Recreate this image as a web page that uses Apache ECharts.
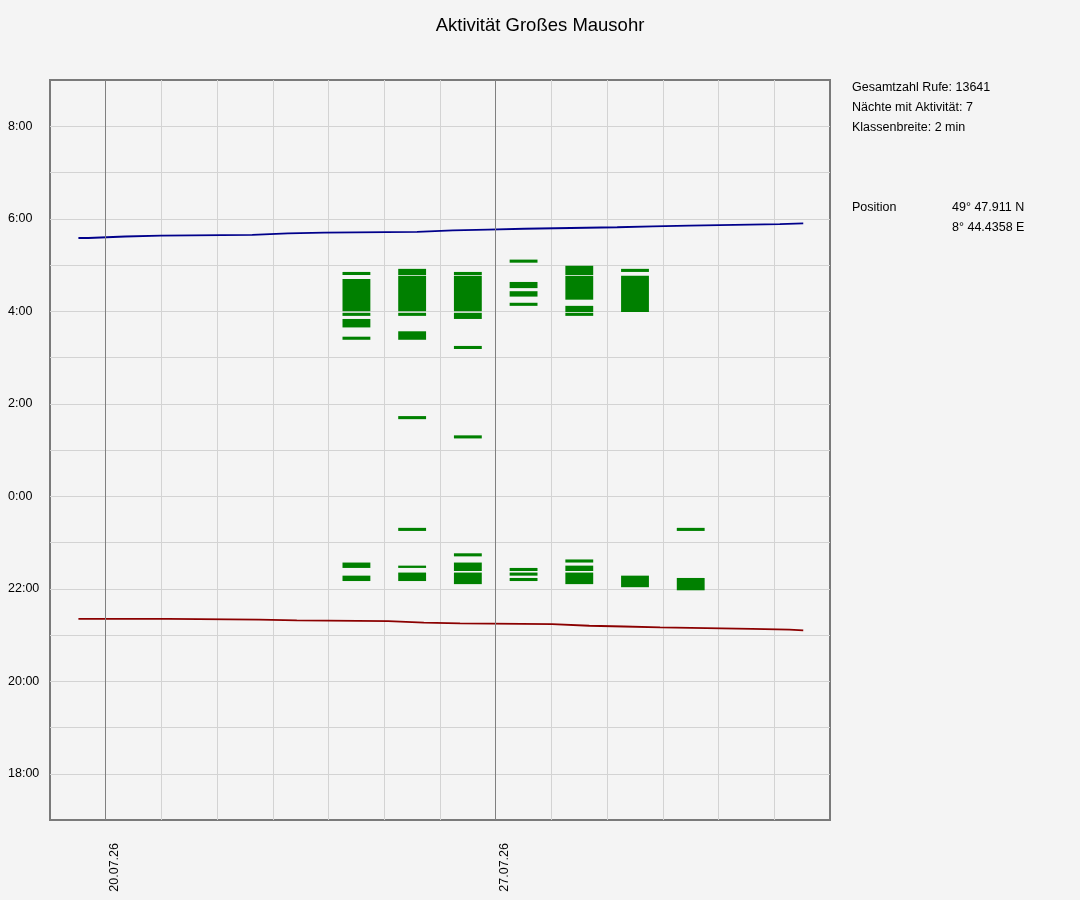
<!DOCTYPE html>
<html>
<head>
<meta charset="utf-8">
<script src="https://cdn.jsdelivr.net/npm/echarts@6/dist/echarts.min.js"></script>
<style>
html,body{margin:0;padding:0;background:#f4f4f4;}
#chart{width:1080px;height:900px;}
</style>
</head>
<body>
<div id="chart"></div>
<script>
// ---------- data ----------
const chartTitle = 'Aktivität Großes Mausohr';
// x axis: days after 19.07.26 (0 = 19.07.26)
const dateTickDays = [1, 8];
const dateTickLabels = ['20.07.26', '27.07.26'];
// y axis: hours relative to midnight
const hourTicks = [-6, -4, -2, 0, 2, 4, 6, 8];
const hourTickLabels = ['18:00', '20:00', '22:00', '0:00', '2:00', '4:00', '6:00', '8:00'];

// centre of each night with activity (days after 19.07.26)
const nightCentres = [5.5, 6.5, 7.5, 8.5, 9.5, 10.5, 11.5];
// activity intervals (start, end) per night
const night2407 = [['4:47','4:51'],['4:00','4:42'],['3:54','3:58'],['3:39','3:50'],['3:23','3:27'],['22:27','22:34'],['22:10','22:17']];
const night2507 = [['4:47','4:55'],['4:00','4:46'],['3:54','3:58'],['3:23','3:34'],['1:40','1:44'],['23:15','23:19'],['22:27','22:30'],['22:10','22:21']];
const night2607 = [['4:47','4:51'],['4:00','4:46'],['3:50','3:58'],['3:11','3:15'],['1:15','1:19'],['22:42','22:46'],['22:23','22:34'],['22:06','22:21']];
const night2707 = [['5:03','5:07'],['4:30','4:38'],['4:19','4:26'],['4:07','4:11'],['22:23','22:27'],['22:17','22:21'],['22:10','22:14']];
const night2807 = [['4:47','4:59'],['4:15','4:46'],['3:59','4:07'],['3:54','3:58'],['22:34','22:38'],['22:23','22:30'],['22:06','22:21']];
const night2907 = [['4:51','4:55'],['3:59','4:46'],['22:02','22:17']];
const night3007 = [['23:15','23:19'],['21:58','22:14']];
const nightIntervals = [night2407, night2507, night2607, night2707, night2807, night2907, night3007];

// sunrise (step line): day of step start, time
const sunriseDays  = [0.51, 0.69, 1.35, 1.99, 3.63, 4.27, 4.92, 6.59, 7.23, 7.86, 8.51, 10.18, 10.82, 11.47, 13.10, 13.52];
const sunriseTimes = ['5:35','5:37','5:38','5:39','5:41','5:42','5:43','5:45','5:46','5:47','5:49','5:50','5:51','5:53','5:54','5:54'];
// sunset (step line)
const sunsetDays  = [0.51, 2.12, 3.75, 4.43, 6.07, 6.71, 7.36, 9.01, 9.68, 10.30, 10.95, 12.60, 13.27, 13.52];
const sunsetTimes = ['21:21','21:20','21:19','21:18','21:16','21:15','21:14','21:12','21:11','21:10','21:08','21:07','21:06','21:06'];

const infoLines = ['Gesamtzahl Rufe: 13641', 'Nächte mit Aktivität: 7', 'Klassenbreite: 2 min'];
const positionLabel = 'Position';
const positionValues = ['49° 47.911 N', '8° 44.4358 E'];

// ---------- helpers ----------
const FONT = 'Liberation Sans';
const FS = 12.5;
const BAR_WIDTH_DAYS = 0.5;
function toHours(t) {
  const [h, m] = t.split(':').map(Number);
  const v = h + m / 60;
  return v >= 12 ? v - 24 : v;
}

const barData = [];
nightIntervals.forEach((list, i) => {
  list.forEach(([s, e]) => barData.push([nightCentres[i], toHours(s), toHours(e)]));
});
const sunriseData = sunriseDays.map((d, i) => [d, toHours(sunriseTimes[i])]);
const sunsetData = sunsetDays.map((d, i) => [d, toHours(sunsetTimes[i])]);

const chart = echarts.init(document.getElementById('chart'));

const textStyle = t => ({ text: t, fontSize: FS, fontFamily: FONT, fill: '#000', align: 'left', verticalAlign: 'middle' });
const graphics = [];
infoLines.forEach((t, i) => graphics.push({ type: 'text', x: 852, y: 88 + i * 20, style: textStyle(t) }));
graphics.push({ type: 'text', x: 852, y: 208, style: textStyle(positionLabel) });
positionValues.forEach((t, i) => graphics.push({ type: 'text', x: 952, y: 208 + i * 20, style: textStyle(t) }));

chart.setOption({
  animation: false,
  backgroundColor: '#f4f4f4',
  title: {
    text: chartTitle, left: 'center', top: 11,
    textStyle: { fontFamily: FONT, fontSize: 18.5, fontWeight: 'normal', color: '#000' }
  },
  grid: {
    left: 50, top: 80, width: 780, height: 740,
    show: true, borderColor: '#7a7a7a', borderWidth: 2, backgroundColor: 'transparent'
  },
  xAxis: {
    type: 'value', min: 0, max: 14, interval: 1,
    axisLine: { show: false }, axisTick: { show: false },
    splitLine: { show: true, showMinLine: false, showMaxLine: false, lineStyle: { color: '#d3d3d3', width: 1 } },
    axisLabel: {
      rotate: 90, margin: 23, fontFamily: FONT, fontSize: FS, color: '#000',
      verticalAlign: 'top', lineHeight: 17,
      formatter: v => { const k = dateTickDays.indexOf(v); return k >= 0 ? dateTickLabels[k] : ''; }
    }
  },
  yAxis: {
    type: 'value', min: -7, max: 9, interval: 1,
    axisLine: { show: false }, axisTick: { show: false },
    splitLine: { show: true, showMinLine: false, showMaxLine: false, lineStyle: { color: '#d3d3d3', width: 1 } },
    axisLabel: {
      margin: 42, align: 'left', fontFamily: FONT, fontSize: FS, color: '#000',
      formatter: v => { const k = hourTicks.indexOf(v); return k >= 0 ? hourTickLabels[k] : ''; }
    }
  },
  graphic: graphics,
  series: [
    {
      type: 'custom',
      data: barData,
      encode: { x: 0, y: [1, 2] },
      renderItem: (params, api) => {
        const x = api.value(0), y0 = api.value(1), y1 = api.value(2);
        const p0 = api.coord([x - BAR_WIDTH_DAYS / 2, y1]);
        const p1 = api.coord([x + BAR_WIDTH_DAYS / 2, y0]);
        return {
          type: 'rect',
          shape: { x: p0[0], y: p0[1], width: p1[0] - p0[0], height: p1[1] - p0[1] },
          style: { fill: '#008000' }
        };
      },
      markLine: {
        silent: true, symbol: ['none', 'none'],
        label: { show: false },
        lineStyle: { color: '#808080', width: 1, type: 'solid' },
        data: dateTickDays.map(d => ({ xAxis: d }))
      },
      z: 2
    },
    {
      type: 'line', data: sunriseData, step: 'end', showSymbol: false,
      lineStyle: { color: '#00008b', width: 1.8 }, z: 3
    },
    {
      type: 'line', data: sunsetData, step: 'end', showSymbol: false,
      lineStyle: { color: '#8b0000', width: 1.8 }, z: 3
    }
  ]
});
</script>
</body>
</html>
